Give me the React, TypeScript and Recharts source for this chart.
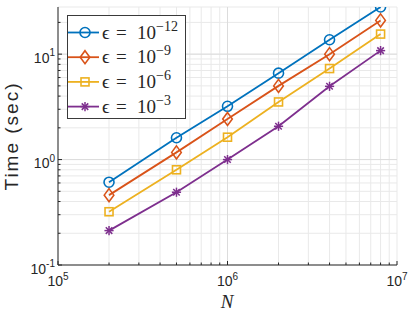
import {
  LineChart,
  Line,
  XAxis,
  YAxis,
  CartesianGrid,
  ReferenceLine,
} from "recharts";

// problem sizes and run times (sec)
const sizes = [2e5, 5e5, 1e6, 2e6, 4e6, 8e6];
const tol12 = [0.61, 1.61, 3.2, 6.6, 13.7, 28.0];
const tol9 = [0.46, 1.17, 2.43, 5.0, 10.0, 20.9];
const tol6 = [0.32, 0.8, 1.63, 3.52, 7.3, 15.5];
const tol3 = [0.212, 0.49, 1.0, 2.07, 4.95, 10.8];

const seriesNames = ["-12", "-9", "-6", "-3"];
const seriesKeys = ["e12", "e9", "e6", "e3"];
const seriesColors = ["#0072BD", "#D95319", "#EDB120", "#7E2F8E"];
const seriesMarkers = ["circle", "diamond", "square", "star"];

const xTicks = [
  1e5, 2e5, 3e5, 4e5, 5e5, 6e5, 7e5, 8e5, 9e5,
  1e6, 2e6, 3e6, 4e6, 5e6, 6e6, 7e6, 8e6, 9e6, 1e7,
];
const yTicks = [
  0.1, 0.2, 0.3, 0.4, 0.5, 0.6, 0.7, 0.8, 0.9,
  1, 2, 3, 4, 5, 6, 7, 8, 9, 10, 20,
];
const xMajor = [1e6];
const yMajor = [1, 10];

const data = sizes.map((n, i) => ({
  n,
  e12: tol12[i],
  e9: tol9[i],
  e6: tol6[i],
  e3: tol3[i],
}));

const AXIS = "#262626";
const SANS = "'Liberation Sans', Arial, Helvetica, sans-serif";
const SERIF = "'Liberation Serif', 'DejaVu Serif', 'Times New Roman', serif";

const isDecade = (v: number) =>
  Math.abs(Math.log10(v) - Math.round(Math.log10(v))) < 1e-9;
const expOf = (v: number) => String(Math.round(Math.log10(v)));

const Marker = ({ kind, cx, cy, color }: any) => {
  const sw = 1.6;
  if (kind === "circle")
    return <circle cx={cx} cy={cy} r={5} fill="none" stroke={color} strokeWidth={sw} />;
  if (kind === "diamond")
    return (
      <polygon
        points={`${cx},${cy - 6.5} ${cx + 4.8},${cy} ${cx},${cy + 6.5} ${cx - 4.8},${cy}`}
        fill="none"
        stroke={color}
        strokeWidth={sw}
      />
    );
  if (kind === "square")
    return (
      <rect x={cx - 4} y={cy - 4} width={8} height={8} fill="none" stroke={color} strokeWidth={sw} />
    );
  const a = 4.6;
  const d = a * 0.707;
  return (
    <g stroke={color} strokeWidth={1.5}>
      <line x1={cx - a} y1={cy} x2={cx + a} y2={cy} />
      <line x1={cx} y1={cy - a} x2={cx} y2={cy + a} />
      <line x1={cx - d} y1={cy - d} x2={cx + d} y2={cy + d} />
      <line x1={cx - d} y1={cy + d} x2={cx + d} y2={cy - d} />
    </g>
  );
};

const BottomTick = ({ x, y, payload }: any) => {
  const v = payload.value;
  const major = isDecade(v);
  return (
    <g>
      <line x1={x} x2={x} y1={y} y2={y - (major ? 4 : 2.5)} stroke={AXIS} />
      {major && (
        <text x={x} y={y + 21} textAnchor="middle" fill={AXIS} fontFamily={SANS} fontSize={14}>
          <tspan>10</tspan>
          <tspan dy={-6.5} fontSize={10}>{expOf(v)}</tspan>
        </text>
      )}
    </g>
  );
};

const TopTick = ({ x, y, payload }: any) => {
  const major = isDecade(payload.value);
  return <line x1={x} x2={x} y1={y} y2={y + (major ? 4 : 2.5)} stroke={AXIS} />;
};

const LeftTick = ({ x, y, payload }: any) => {
  const v = payload.value;
  const major = isDecade(v);
  return (
    <g>
      <line x1={x} x2={x + (major ? 4 : 2.5)} y1={y} y2={y} stroke={AXIS} />
      {major && (
        <text x={x - 3} y={y + 8.5} textAnchor="end" fill={AXIS} fontFamily={SANS} fontSize={14}>
          <tspan>10</tspan>
          <tspan dy={-6.5} fontSize={10}>{expOf(v)}</tspan>
        </text>
      )}
    </g>
  );
};

const RightTick = ({ x, y, payload }: any) => {
  const major = isDecade(payload.value);
  return <line x1={x} x2={x - (major ? 4 : 2.5)} y1={y} y2={y} stroke={AXIS} />;
};

const LegendBox = () => (
  <svg
    width={120}
    height={105}
    style={{ position: "absolute", left: 67, top: 15 }}
  >
    <rect x={0.5} y={0.5} width={118} height={103} fill="#fff" stroke="#3a3a3a" strokeWidth={1} />
    {seriesNames.map((name, i) => {
      const cy = 17.5 + i * 24.7;
      return (
        <g key={name}>
          <line x1={1} x2={32} y1={cy} y2={cy} stroke={seriesColors[i]} strokeWidth={1.8} />
          <Marker kind={seriesMarkers[i]} cx={18} cy={cy} color={seriesColors[i]} />
          <text y={cy + 6} fill={AXIS} fontFamily={SERIF} fontSize={19}>
            <tspan x={35}>ϵ</tspan>
            <tspan x={49}>=</tspan>
            <tspan x={70}>10</tspan>
            <tspan dy={-8} fontSize={14}>{"−" + name.slice(1)}</tspan>
          </text>
        </g>
      );
    })}
  </svg>
);

const App = () => {
  return (
    <div style={{ position: "absolute", left: 0, top: 0, width: 408, height: 314, background: "#fff" }}>
      <LineChart
        width={408}
        height={314}
        data={data}
        margin={{ top: 7, right: 11, left: 0, bottom: 0 }}
      >
        <CartesianGrid stroke="#e9e9e9" strokeWidth={1} />
        {xMajor.map((v) => (
          <ReferenceLine key={"x" + v} x={v} stroke="#dcdcdc" />
        ))}
        {yMajor.map((v) => (
          <ReferenceLine key={"y" + v} y={v} stroke="#dcdcdc" />
        ))}
        <XAxis
          dataKey="n"
          type="number"
          scale="log"
          domain={[1e5, 1e7]}
          allowDataOverflow
          ticks={xTicks}
          interval={0}
          tick={<BottomTick />}
          tickLine={false}
          tickSize={0}
          tickMargin={0}
          axisLine={{ stroke: AXIS }}
          height={49}
        />
        <XAxis
          xAxisId="top"
          orientation="top"
          dataKey="n"
          type="number"
          scale="log"
          domain={[1e5, 1e7]}
          allowDataOverflow
          ticks={xTicks}
          interval={0}
          tick={<TopTick />}
          tickLine={false}
          tickSize={0}
          tickMargin={0}
          axisLine={{ stroke: AXIS }}
          height={0}
        />
        <YAxis
          type="number"
          scale="log"
          domain={[0.1, 28]}
          allowDataOverflow
          ticks={yTicks}
          interval={0}
          tick={<LeftTick />}
          tickLine={false}
          tickSize={0}
          tickMargin={0}
          axisLine={{ stroke: AXIS }}
          width={58}
        />
        <YAxis
          yAxisId="right"
          orientation="right"
          type="number"
          scale="log"
          domain={[0.1, 28]}
          allowDataOverflow
          ticks={yTicks}
          interval={0}
          tick={<RightTick />}
          tickLine={false}
          tickSize={0}
          tickMargin={0}
          axisLine={{ stroke: AXIS }}
          width={0}
        />
        {seriesKeys.map((k, i) => (
          <Line
            key={k}
            dataKey={k}
            stroke={seriesColors[i]}
            strokeWidth={1.8}
            isAnimationActive={false}
            activeDot={false}
            dot={(p: any) => (
              <Marker
                key={k + p.index}
                kind={seriesMarkers[i]}
                cx={p.cx}
                cy={p.cy}
                color={seriesColors[i]}
              />
            )}
          />
        ))}
        <text x={227} y={308} textAnchor="middle" fill={AXIS} fontFamily={SERIF} fontStyle="italic" fontSize={19}>
          N
        </text>
        <text
          x={18}
          y={136}
          transform="rotate(-90, 18, 136)"
          textAnchor="middle"
          fill={AXIS}
          fontFamily={SANS}
          fontSize={19}
          letterSpacing={2}
        >
          Time (sec)
        </text>
      </LineChart>
      <LegendBox />
    </div>
  );
};

export default App;
